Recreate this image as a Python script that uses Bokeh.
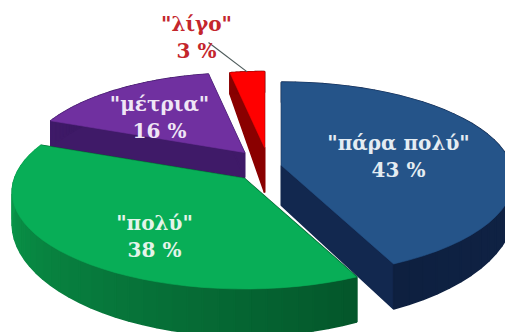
import numpy as np
from bokeh.core.properties import value
from bokeh.embed import file_html
from bokeh.plotting import figure
from bokeh.resources import INLINE

# Survey answers, in drawing direction clockwise from twelve o'clock
categories = ["πάρα πολύ", "πολύ", "μέτρια", "λίγο"]
percents = [43, 38, 16, 3]

# Appearance of each slice
top_colors = ["#255489", "#08ae57", "#7030a0", "#ff0000"]
wall_start = ["#12284f", "#0ba551", "#3f1a68", "#8a0000"]
wall_end = ["#0e2040", "#04572b", "#34145a", "#6e0000"]
apexes = [(281, 165), (244, 178), (244, 152), (264, 147)]
radii = [1.0, 1.0, 0.95, 0.9]
apex_depths = [40, 30, 25, 45]
label_colors = ["#e4ecf2", "#e4f4ea", "#efe6f5", "#c4262c"]
label_anchors = [(398, 142), (154, 222), (159, 103), (196, 23)]
label_size = 20
line_gap = 27

RX, RY, PERSP, DEPTH = 230.0, 95.0, 0.14, 30.0
W, H = 505, 332


def scale(v):
    return 1.0 / (1.0 + PERSP * v)


def project(apex, radius, angle):
    """Map a point of the tilted disc onto the page, near side drawn larger."""
    u, v = radius * np.sin(angle), radius * np.cos(angle)
    s = scale(v)
    x = apex[0] + RX * u * s
    y = apex[1] - RY * v * s
    return x, y, DEPTH * s ** 3


def blend(a, b, t):
    ca = [int(a[i:i + 2], 16) for i in (1, 3, 5)]
    cb = [int(b[i:i + 2], 16) for i in (1, 3, 5)]
    return "#%02x%02x%02x" % tuple(round(p + (q - p) * t) for p, q in zip(ca, cb))


p = figure(width=W, height=H, x_range=(0, W), y_range=(H, 0),
           output_backend="svg", toolbar_location=None, min_border=0)
p.axis.visible = False
p.grid.visible = False
p.outline_line_color = None
p.background_fill_color = "#ffffff"
p.border_fill_color = "#ffffff"

# Cumulative angle of each slice
edges = np.cumsum([0] + percents) / sum(percents) * 2 * np.pi
spans = list(zip(edges[:-1], edges[1:]))

# Back slices first so the nearer ones cover them
for i in [2, 3, 0, 1]:
    start, stop = spans[i]
    apex = apexes[i]
    angles = np.linspace(start, stop, 41)
    rim = [project(apex, radii[i], a) for a in angles]
    ax, ay = apex
    ad = apex_depths[i]

    xs, ys, colors = [], [], []
    # Flat cut walls running from the apex to the rim
    for (rx, ry, rd) in (rim[0], rim[-1]):
        xs.append([ax, rx, rx, ax])
        ys.append([ay, ry, ry + rd, ay + ad])
        colors.append(wall_start[i] if i != 1 else wall_end[i])
    # Curved outer wall, shaded along its length
    for k in range(len(rim) - 1):
        x0, y0, d0 = rim[k]
        x1, y1, d1 = rim[k + 1]
        xs.append([x0, x1, x1, x0])
        ys.append([y0, y1, y1 + d1, y0 + d0])
        t = k / (len(rim) - 2)
        colors.append(blend(wall_end[i], wall_start[i], t) if i == 1
                      else blend(wall_start[i], wall_end[i], t))
    p.patches(xs, ys, fill_color=colors, line_color=colors, line_width=1.6)

    p.patch([ax] + [r[0] for r in rim], [ay] + [r[1] for r in rim],
            fill_color=top_colors[i], line_color=top_colors[i], line_width=0.6)

# Leader from the smallest slice up to its label
red_mid = project(apexes[3], radii[3], (spans[3][0] + spans[3][1]) / 2)
p.line([208, red_mid[0]], [42, red_mid[1]], line_color="#4d5a5a", line_width=1.2)

for name, pct, (lx, ly), col in zip(categories, percents, label_anchors, label_colors):
    p.text([lx, lx], [ly, ly + line_gap], text=[f'"{name}"', f"{pct} %"],
           text_font=value("DejaVu Serif"), text_font_style="bold",
           text_font_size=f"{label_size}px", text_color=col,
           text_align="center", text_baseline="middle")

open("out.html", "w").write(file_html(p, INLINE))
